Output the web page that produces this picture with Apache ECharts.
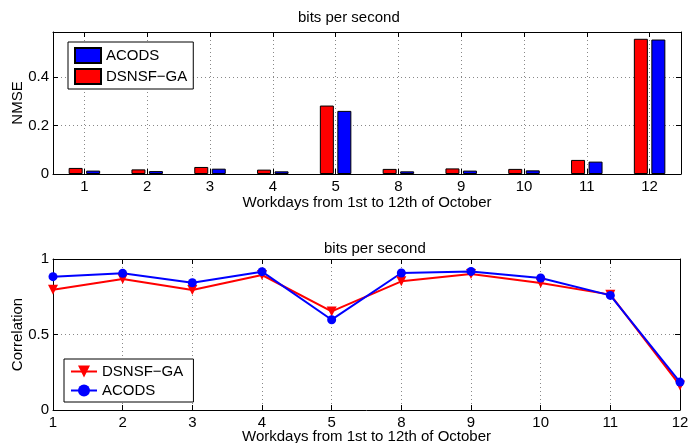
<!DOCTYPE html>
<html>
<head>
<meta charset="utf-8">
<script src="https://cdn.jsdelivr.net/npm/echarts@6/dist/echarts.min.js"></script>
<style>
  html, body { margin: 0; padding: 0; background: #fff; }
  #chart { width: 688px; height: 443px; }
</style>
</head>
<body>
<div id="chart"></div>
<script>
// ---- data ----
const days = ['1', '2', '3', '4', '5', '8', '9', '10', '11', '12'];

// NMSE (top, bars)
const nmseDsnsf = [0.025, 0.019, 0.029, 0.018, 0.282, 0.021, 0.023, 0.021, 0.058, 0.557];
const nmseAcods = [0.014, 0.012, 0.022, 0.011, 0.260, 0.011, 0.014, 0.015, 0.051, 0.554];

// Correlation (bottom, lines)
const corrDsnsf = [0.797, 0.868, 0.795, 0.894, 0.653, 0.852, 0.900, 0.841, 0.764, 0.163];
const corrAcods = [0.883, 0.905, 0.843, 0.916, 0.598, 0.907, 0.918, 0.874, 0.759, 0.185];

const nmseTicks = { min: 0, max: 0.585, interval: 0.2 };
const corrTicks = { min: 0, max: 1, interval: 0.5 };

const FONT = 'Liberation Sans, Arial, Helvetica, sans-serif';
const FS = 15;
const RED = '#ff0000';
const BLUE = '#0000ff';

const dotted = { show: true, lineStyle: { type: [1, 3], color: '#888', width: 1 } };
const blackLine = { show: true, onZero: false, lineStyle: { color: '#000', width: 1 } };
const inTick = { show: true, inside: true, length: 5, lineStyle: { color: '#000' } };
const lbl = { color: '#000', fontFamily: FONT, fontSize: FS };

const chart = echarts.init(document.getElementById('chart'), null, { renderer: 'canvas' });

chart.setOption({
  animation: false,
  backgroundColor: '#fff',
  textStyle: { fontFamily: FONT },
  title: [
    { text: 'bits per second', left: 298, top: 10, padding: 0,
      textStyle: { fontWeight: 'normal', fontSize: FS, color: '#000', fontFamily: FONT } },
    { text: 'bits per second', left: 324, top: 241, padding: 0,
      textStyle: { fontWeight: 'normal', fontSize: FS, color: '#000', fontFamily: FONT } }
  ],
  legend: [
    {
      orient: 'vertical', left: 68, top: 42,
      padding: [5, 6, 4, 6], itemGap: 4, itemWidth: 26, itemHeight: 15,
      backgroundColor: '#fff', borderColor: '#000', borderWidth: 1, borderRadius: 0,
      selectedMode: false,
      textStyle: { ...lbl, lineHeight: 15 },
      data: [{ name: 'ACODS', icon: 'rect' }, { name: 'DSNSF\u2212GA', icon: 'rect' }]
    },
    {
      orient: 'vertical', left: 64, top: 359,
      padding: [5, 6, 4, 6], itemGap: 4, itemWidth: 26, itemHeight: 15,
      backgroundColor: '#fff', borderColor: '#000', borderWidth: 1, borderRadius: 0,
      selectedMode: false,
      textStyle: { ...lbl, lineHeight: 15 },
      data: ['DSNSF\u2212GA ', 'ACODS ']
    }
  ],
  grid: [
    { left: 53, right: 7, top: 32, height: 142, outerBoundsMode: 'none', containLabel: false },
    { left: 53, right: 8, top: 259, height: 151, outerBoundsMode: 'none', containLabel: false }
  ],
  xAxis: [
    {
      gridIndex: 0, type: 'category', data: days, boundaryGap: true,
      axisLine: blackLine,
      axisTick: { ...inTick, alignWithLabel: true },
      axisLabel: { ...lbl, margin: 5 },
      splitLine: { ...dotted, alignWithLabel: true },
      name: 'Workdays from 1st to 12th of October', nameLocation: 'middle', nameGap: 21,
      nameMoveOverlap: false, nameTextStyle: lbl
    },
    {
      gridIndex: 0, type: 'category', data: days, boundaryGap: true, position: 'top',
      axisLine: blackLine,
      axisTick: { ...inTick, alignWithLabel: true },
      axisLabel: { show: false }, splitLine: { show: false }
    },
    {
      gridIndex: 1, type: 'category', data: days, boundaryGap: false,
      axisLine: blackLine, axisTick: inTick,
      axisLabel: { ...lbl, margin: 5 },
      splitLine: dotted,
      name: 'Workdays from 1st to 12th of October', nameLocation: 'middle', nameGap: 19,
      nameMoveOverlap: false, nameTextStyle: lbl
    },
    {
      gridIndex: 1, type: 'category', data: days, boundaryGap: false, position: 'top',
      axisLine: blackLine, axisTick: inTick,
      axisLabel: { show: false }, splitLine: { show: false }
    }
  ],
  yAxis: [
    {
      gridIndex: 0, type: 'value', ...nmseTicks,
      axisLine: blackLine, axisTick: inTick,
      axisLabel: { ...lbl, margin: 4, showMaxLabel: false },
      splitLine: dotted,
      name: 'NMSE', nameLocation: 'middle', nameGap: 28,
      nameMoveOverlap: false, nameTextStyle: lbl
    },
    {
      gridIndex: 0, type: 'value', ...nmseTicks, position: 'right',
      axisLine: blackLine, axisTick: inTick,
      axisLabel: { show: false }, splitLine: { show: false }
    },
    {
      gridIndex: 1, type: 'value', ...corrTicks,
      axisLine: blackLine, axisTick: inTick,
      axisLabel: { ...lbl, margin: 4 },
      splitLine: dotted,
      name: 'Correlation', nameLocation: 'middle', nameGap: 28,
      nameMoveOverlap: false, nameTextStyle: lbl
    },
    {
      gridIndex: 1, type: 'value', ...corrTicks, position: 'right',
      axisLine: blackLine, axisTick: inTick,
      axisLabel: { show: false }, splitLine: { show: false }
    }
  ],
  series: [
    {
      name: 'DSNSF\u2212GA', type: 'bar', xAxisIndex: 0, yAxisIndex: 0,
      data: nmseDsnsf, barWidth: 14, barGap: '25%',
      itemStyle: { color: RED, borderColor: '#000', borderWidth: 1 }
    },
    {
      name: 'ACODS', type: 'bar', xAxisIndex: 0, yAxisIndex: 0,
      data: nmseAcods, barWidth: 14, barGap: '25%',
      itemStyle: { color: BLUE, borderColor: '#000', borderWidth: 1 }
    },
    {
      name: 'DSNSF\u2212GA ', type: 'line', xAxisIndex: 2, yAxisIndex: 2,
      data: corrDsnsf, symbol: 'triangle', symbolRotate: 180, symbolSize: 10,
      lineStyle: { color: RED, width: 2 }, itemStyle: { color: RED }
    },
    {
      name: 'ACODS ', type: 'line', xAxisIndex: 2, yAxisIndex: 2,
      data: corrAcods, symbol: 'circle', symbolSize: 9,
      lineStyle: { color: BLUE, width: 2 }, itemStyle: { color: BLUE }
    }
  ]
});
</script>
</body>
</html>
